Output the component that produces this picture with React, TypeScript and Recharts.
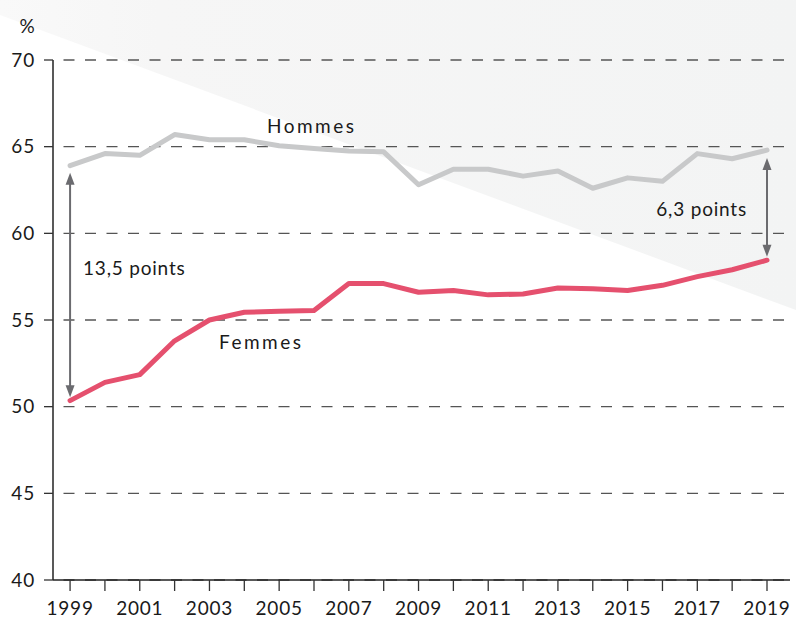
import React from 'react';
import { LineChart, Line, XAxis, YAxis, CartesianGrid, ReferenceLine } from 'recharts';

const years = [1999, 2000, 2001, 2002, 2003, 2004, 2005, 2006, 2007, 2008, 2009, 2010, 2011, 2012, 2013, 2014, 2015, 2016, 2017, 2018, 2019];
const hommes = [63.9, 64.6, 64.5, 65.7, 65.4, 65.4, 65.05, 64.9, 64.75, 64.7, 62.8, 63.7, 63.7, 63.3, 63.6, 62.6, 63.2, 63.0, 64.6, 64.3, 64.8];
const femmes = [50.35, 51.4, 51.85, 53.8, 55.0, 55.45, 55.5, 55.55, 57.1, 57.1, 56.6, 56.7, 56.45, 56.5, 56.85, 56.8, 56.7, 57.0, 57.5, 57.9, 58.45];
const yTicks = [40, 45, 50, 55, 60, 65, 70];
const gapStart = [1999, 63.5, 50.55];
const gapEnd = [2019, 64.35, 58.65];

const data = years.map((y, i) => ({ year: y, hommes: hommes[i], femmes: femmes[i] }));

const FONT = 'Lato, "DejaVu Sans", sans-serif';
const ARROW = '#6b6b6f';

const Arrow = (props: any) => {
  const { x1, y1, x2, y2 } = props;
  const x = x1;
  const top = Math.min(y1, y2);
  const bot = Math.max(y1, y2);
  const h = 12;
  const w = 4.5;
  return (
    <g>
      <line x1={x} y1={top + h - 1} x2={x2} y2={bot - h + 1} stroke={ARROW} strokeWidth={2} />
      <polygon points={`${x},${top} ${x - w},${top + h} ${x + w},${top + h}`} fill={ARROW} />
      <polygon points={`${x},${bot} ${x - w},${bot - h} ${x + w},${bot - h}`} fill={ARROW} />
    </g>
  );
};

export default function App() {
  return (
    <div style={{ position: 'absolute', left: 0, top: 0, width: 796, height: 619, background: '#fff' }}>
      <svg width={796} height={619} style={{ position: 'absolute', left: 0, top: 0 }}>
        <defs>
          <linearGradient id="bg" x1="0" y1="0" x2="1" y2="0">
            <stop offset="0" stopColor="#f9f9f9" />
            <stop offset="0.2" stopColor="#f6f6f6" />
            <stop offset="1" stopColor="#f3f4f4" />
          </linearGradient>
        </defs>
        <polygon points="0,0 796,0 796,310 0,15" fill="url(#bg)" />
        <g fontFamily={FONT} fontSize={19} fill="#1a1a1a">
          <text x={27} y={33} textAnchor="middle">%</text>
          <text x={267} y={133} letterSpacing={2.5}>Hommes</text>
          <text x={219} y={349} letterSpacing={2.5}>Femmes</text>
          <text x={83} y={275} letterSpacing={0.8}>13,5 points</text>
          <text x={747} y={216} textAnchor="end" letterSpacing={0.8}>6,3 points</text>
        </g>
      </svg>
      <div style={{ position: 'absolute', left: 0, top: 0 }}>
        <LineChart width={796} height={619} data={data} margin={{ top: 60, right: 6, bottom: 0, left: 0 }}>
          <CartesianGrid vertical={false} stroke="#555" strokeDasharray="11 10.5" strokeDashoffset={11} strokeWidth={1.3} />
          <XAxis
            dataKey="year"
            type="number"
            domain={[1998.51, 2019.66]}
            ticks={years}
            interval={0}
            allowDataOverflow
            tickFormatter={(v: number) => (v % 2 === 1 ? String(v) : '')}
            height={39}
            tickSize={11}
            tickMargin={11}
            axisLine={{ stroke: '#222', strokeWidth: 1.5 }}
            tickLine={{ stroke: '#333', strokeWidth: 1.3 }}
            tick={{ fill: '#1a1a1a', fontSize: 19, fontFamily: FONT, letterSpacing: 0.8 }}
          />
          <YAxis
            type="number"
            domain={[40, 70]}
            ticks={yTicks}
            interval={0}
            width={53}
            tickSize={9}
            tickMargin={9}
            axisLine={{ stroke: '#222', strokeWidth: 1.5 }}
            tickLine={{ stroke: '#333', strokeWidth: 1.3 }}
            tick={{ fill: '#1a1a1a', fontSize: 19, fontFamily: FONT, letterSpacing: 0.8 }}
          />
          <Line dataKey="hommes" stroke="#c8c9ca" strokeWidth={5} dot={false} isAnimationActive={false} strokeLinejoin="round" strokeLinecap="round" />
          <Line dataKey="femmes" stroke="#e5506e" strokeWidth={5} dot={false} isAnimationActive={false} strokeLinejoin="round" strokeLinecap="round" />
          <ReferenceLine segment={[{ x: gapStart[0], y: gapStart[1] }, { x: gapStart[0], y: gapStart[2] }]} shape={Arrow} />
          <ReferenceLine segment={[{ x: gapEnd[0], y: gapEnd[1] }, { x: gapEnd[0], y: gapEnd[2] }]} shape={Arrow} />
        </LineChart>
      </div>
    </div>
  );
}
